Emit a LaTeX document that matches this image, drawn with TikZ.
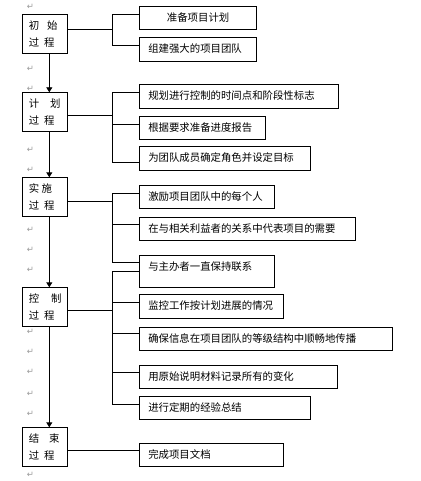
\documentclass[tikz,border=0pt]{standalone}
\usepackage{fontspec}
\newfontfamily\cjk{Noto Sans CJK SC}
\newfontfamily\symf{DejaVu Sans}
\usetikzlibrary{arrows.meta,calc}

\begin{document}
\begin{tikzpicture}[x=1pt,y=-1pt,line width=0.9pt,
  lbox/.style={draw,anchor=north west,minimum width=45pt,minimum height=39pt,inner xsep=6pt,inner ysep=0pt,text width=33pt,align=left,font=\cjk\fontsize{10.4}{16.7}\selectfont},
  rbox/.style={draw,anchor=north west,minimum height=23.3pt,inner xsep=8.5pt,inner ysep=0pt,text height=9pt,text depth=2.5pt,align=left,font=\cjk\fontsize{10.4}{12}\selectfont},
  f/.style={-{Triangle[length=5pt,width=6pt]}},
  mk/.style={font=\symf\fontsize{8.5}{8.5}\selectfont,text=black!40,inner sep=0pt}]
\useasboundingbox (0,0) rectangle (420,481);
% process stages
\node[lbox] (init) at (22.3,14) {初\hspace{8pt}始\\过\hspace{5pt}程};
\node[lbox] (plan) at (22.3,92.3) {计\hspace{11pt}划\\过\hspace{5pt}程};
\node[lbox] (exec) at (22.3,177.3) {实\hspace{2.5pt}施\\过\hspace{5pt}程};
\node[lbox] (ctrl) at (22.3,287.3) {控\hspace{12pt}制\\过\hspace{5pt}程};
\node[lbox] (close) at (22.3,427.3) {结\hspace{10pt}束\\过\hspace{5pt}程};
\coordinate (ax) at (49.3,0);
\draw[f] (init.south -| ax) -- (plan.north -| ax);
\draw[f] (plan.south -| ax) -- (exec.north -| ax);
\draw[f] (exec.south -| ax) -- (ctrl.north -| ax);
\draw[f] (ctrl.south -| ax) -- (close.north -| ax);
% tasks
\node[rbox,text width=99.7pt,align=center] (i1) at (139.3,6) {准备项目计划};
\node[rbox,text width=99.7pt] (i2) at (139.3,37.3) {组建强大的项目团队};
\node[rbox,text width=181.4pt] (p1) at (139.3,84.3) {规划进行控制的时间点和阶段性标志};
\node[rbox,text width=109pt] (p2) at (139.3,115.7) {根据要求准备进度报告};
\node[rbox,text width=153.7pt] (p3) at (139.3,146.3) {为团队成员确定角色并设定目标};
\node[rbox,text width=117.7pt] (e1) at (139.3,185) {激励项目团队中的每个人};
\node[rbox,text width=198.7pt] (e2) at (139.3,216.7) {在与相关利益者的关系中代表项目的需要};
\node[rbox,text width=117.7pt,minimum height=31.7pt,text depth=10.5pt] (e3) at (139.3,255) {与主办者一直保持联系};
\node[rbox,text width=127pt] (c1) at (139.3,294.3) {监控工作按计划进展的情况};
\node[rbox,text width=235.4pt] (c2) at (139.3,326.7) {确保信息在项目团队的等级结构中顺畅地传播};
\node[rbox,text width=181pt] (c3) at (139.3,365) {用原始说明材料记录所有的变化};
\node[rbox,text width=153.7pt] (c4) at (139.3,396) {进行定期的经验总结};
\node[rbox,text width=127pt,minimum height=22.7pt] (f1) at (139.3,443.3) {完成项目文档};
% brackets
\coordinate (j1) at (112.3,29.3);
\draw (init.east |- j1) -- (j1);
\draw ([yshift=-8.3pt]i1.north west) -- ++(-27,0) |- ([yshift=-7.7pt]i2.north west);
\coordinate (j2) at (112.3,115.7);
\draw (plan.east |- j2) -- (j2);
\draw ([yshift=-8.4pt]p1.north west) -- ++(-27,0) |- ([yshift=-16.3pt]p3.north west);
\draw ([yshift=-8.3pt]p2.north west) -- ++(-27,0);
\coordinate (j3) at (112.3,201);
\draw (exec.east |- j3) -- (j3);
\draw ([yshift=-8.3pt]e1.north west) -- ++(-27,0) |- ([yshift=-7.7pt]e3.north west);
\draw ([yshift=-7.6pt]e2.north west) -- ++(-27,0);
\coordinate (j4) at (112.3,310.7);
\draw (ctrl.east |- j4) -- (j4);
\draw ([yshift=-16.7pt]e3.north west) -- ++(-27,0) |- ([yshift=-8pt]c4.north west);
\foreach \n/\d in {c1/8.4,c2/6.6,c3/7.7}
  \draw ([yshift=-\d pt]\n.north west) -- ++(-27,0);
\coordinate (j5) at ([yshift=-6.7pt]f1.north west);
\draw (close.east |- j5) -- (j5);
% paragraph marks
\foreach \y [count=\k] in {7,68.5,88.5,150,170,230,250,270,331.7,351.7,371.7,394.3,414.3,475}
  \node[mk] (m\k) at (30.5,\y) {↵};
\end{tikzpicture}
\end{document}
